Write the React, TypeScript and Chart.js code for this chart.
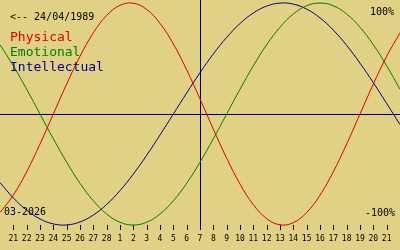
import { useEffect, useRef } from "react";
import { Chart, registerables } from "chart.js";

Chart.register(...registerables);

const BIRTH_DATE = "24/04/1989";
const MONTH_LABEL = "03-2026";
const TOP_LABEL = "100%";
const BOTTOM_LABEL = "-100%";
const SERIES_NAMES = ["Physical", "Emotional", "Intellectual"];
const SERIES_COLORS = ["#e00000", "#008000", "#000090"];

// tick labels for day index 0..28 (21 Feb .. 21 Mar)
const TICK_LABELS = [
  "21", "22", "23", "24", "25", "26", "27", "28",
  "1", "2", "3", "4", "5", "6", "7", "8", "9", "10", "11", "12", "13",
  "14", "15", "16", "17", "18", "19", "20", "21",
];
const TODAY_INDEX = 14;

// day index of each data point (-1 = 20 Feb ... 29 = 22 Mar)
const DAY_INDEX = [
  -1, 0, 1, 2, 3, 4, 5, 6, 7, 8, 9, 10, 11, 12, 13, 14, 15, 16, 17, 18, 19,
  20, 21, 22, 23, 24, 25, 26, 27, 28, 29,
];

const PHYSICAL = [
  -0.888, -0.731, -0.52, -0.27, 0, 0.27, 0.52, 0.731, 0.888, 0.979, 0.998,
  0.942, 0.817, 0.631, 0.398, 0.136, -0.136, -0.398, -0.631, -0.817, -0.942,
  -0.998, -0.979, -0.888, -0.731, -0.52, -0.27, 0, 0.27, 0.52, 0.731,
];
const EMOTIONAL = [
  0.624, 0.434, 0.223, 0, -0.223, -0.434, -0.624, -0.782, -0.901, -0.975, -1,
  -0.975, -0.901, -0.782, -0.624, -0.434, -0.223, 0, 0.223, 0.434, 0.624,
  0.782, 0.901, 0.975, 1, 0.975, 0.901, 0.782, 0.624, 0.434, 0.223,
];
const INTELLECTUAL = [
  -0.618, -0.756, -0.866, -0.945, -0.99, -0.999, -0.972, -0.91, -0.815, -0.69,
  -0.541, -0.372, -0.189, 0, 0.189, 0.372, 0.541, 0.69, 0.815, 0.91, 0.972,
  0.999, 0.99, 0.945, 0.866, 0.756, 0.618, 0.458, 0.282, 0.095, -0.095,
];

const BG = "#e1d184";
const MONO = "'DejaVu Sans Mono', 'Liberation Mono', monospace";

export default function App() {
  const ref = useRef<HTMLCanvasElement | null>(null);

  useEffect(() => {
    const canvas = ref.current;
    if (!canvas) return;

    const series = [PHYSICAL, EMOTIONAL, INTELLECTUAL];

    const decor = {
      id: "decor",
      beforeDraw(chart: any) {
        const { ctx, width, height } = chart;
        ctx.save();
        ctx.fillStyle = BG;
        ctx.fillRect(0, 0, width, height);
        ctx.restore();
      },
      beforeDatasetsDraw(chart: any) {
        const { ctx, width } = chart;
        const xs = chart.scales.x;
        const ys = chart.scales.y;
        ctx.save();
        ctx.strokeStyle = "#000";
        ctx.lineWidth = 1;
        const y0 = Math.round(ys.getPixelForValue(0)) + 0.5;
        ctx.beginPath();
        ctx.moveTo(0, y0);
        ctx.lineTo(width, y0);
        ctx.stroke();
        const xt = Math.round(xs.getPixelForValue(TODAY_INDEX)) + 0.5;
        ctx.beginPath();
        ctx.moveTo(xt, 0);
        ctx.lineTo(xt, 230);
        ctx.stroke();
        // day ticks
        TICK_LABELS.forEach((lab, i) => {
          const x = Math.round(xs.getPixelForValue(i)) + 0.5;
          ctx.beginPath();
          ctx.moveTo(x, 225);
          ctx.lineTo(x, 230);
          ctx.stroke();
        });
        ctx.fillStyle = "#000";
        ctx.font = `8px ${MONO}`;
        ctx.textAlign = "center";
        ctx.textBaseline = "middle";
        TICK_LABELS.forEach((lab, i) => {
          const x = xs.getPixelForValue(i);
          ctx.fillText(lab, x, 239);
        });
        ctx.restore();
      },
      afterDatasetsDraw(chart: any) {
        const { ctx } = chart;
        ctx.save();
        ctx.textBaseline = "middle";
        ctx.textAlign = "left";
        ctx.fillStyle = "#000";
        ctx.font = `10px ${MONO}`;
        ctx.fillText("<-- " + BIRTH_DATE, 10, 17);
        ctx.fillText(MONTH_LABEL, 4, 212);
        ctx.textAlign = "right";
        ctx.fillText(TOP_LABEL, 394, 12);
        ctx.fillText(BOTTOM_LABEL, 395, 213);
        ctx.textAlign = "left";
        ctx.font = `13px ${MONO}`;
        SERIES_NAMES.forEach((n, i) => {
          ctx.fillStyle = SERIES_COLORS[i];
          ctx.fillText(n, 10, 38 + i * 15);
        });
        ctx.restore();
      },
    };

    const chart = new Chart(canvas, {
      type: "line",
      data: {
        datasets: SERIES_NAMES.map((name, s) => ({
          label: name,
          data: DAY_INDEX.map((d, i) => ({ x: d, y: series[s][i] })),
          borderColor: SERIES_COLORS[s],
          borderWidth: 1,
          pointRadius: 0,
          tension: 0.4,
          fill: false,
        })),
      },
      options: {
        animation: false,
        responsive: false,
        devicePixelRatio: 1,
        layout: { padding: 0 },
        plugins: {
          legend: { display: false },
          tooltip: { enabled: false },
        },
        scales: {
          x: { type: "linear", min: -1, max: 29, display: false },
          y: { type: "linear", min: -1.225, max: 1.027, display: false },
        },
      },
      plugins: [decor],
    });

    return () => chart.destroy();
  }, []);

  return (
    <div style={{ position: "fixed", left: 0, top: 0, width: 400, height: 250, background: BG }}>
      <canvas ref={ref} width={400} height={250} style={{ display: "block", width: 400, height: 250 }} />
    </div>
  );
}
